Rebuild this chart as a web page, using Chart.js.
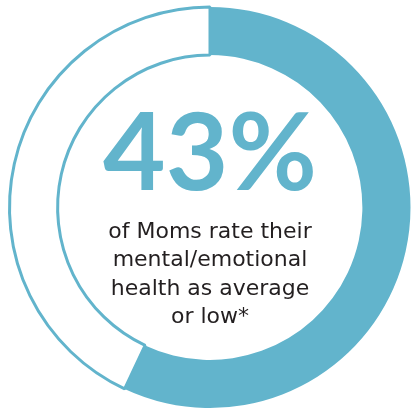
<!DOCTYPE html>
<html>
<head>
<meta charset="utf-8">
<script src="https://cdn.jsdelivr.net/npm/chart.js@4/dist/chart.umd.min.js"></script>
<style>
  html, body { margin: 0; padding: 0; background: #fff; }
  #wrap { width: 412px; height: 411px; position: relative; }
</style>
</head>
<body>
<div id="wrap"><canvas id="momsChart"></canvas></div>
<script>
// values (blue part first, from 12 o'clock clockwise)
const labels = ['Good or better', 'Average or low'];
const values = [57, 43];
const colors = ['#62b4cc', '#ffffff'];
const bigText = '43%';
const captionLines = ['of Moms rate their', 'mental/emotional', 'health as average', 'or low*'];

const blue = '#62b4cc';

// center text
const centerText = {
  id: 'centerText',
  afterDraw(chart) {
    const ctx = chart.ctx;
    const x = 210;
    ctx.save();
    ctx.textAlign = 'center';
    ctx.textBaseline = 'alphabetic';
    ctx.fillStyle = blue;
    ctx.font = 'bold 108px Lato';
    ctx.fillText(bigText, x, 190);
    ctx.fillStyle = '#231f20';
    ctx.font = '22px "DejaVu Sans"';
    captionLines.forEach((line, i) => {
      ctx.fillText(line, x, 238 + i * 28.3);
    });
    ctx.restore();
  }
};

const ctx = document.getElementById('momsChart');
new Chart(ctx, {
  type: 'doughnut',
  data: {
    labels: labels,
    datasets: [{
      data: values,
      backgroundColor: colors,
      borderColor: [blue, blue],
      borderWidth: [0, 3],
      borderAlign: 'center'
    }]
  },
  options: {
    responsive: true,
    maintainAspectRatio: false,
    animation: false,
    cutout: '76%',
    layout: { padding: { left: 8, right: 0, top: 5, bottom: 1 } },
    plugins: {
      legend: { display: false },
      tooltip: { enabled: false }
    }
  },
  plugins: [centerText]
});
</script>
</body>
</html>
